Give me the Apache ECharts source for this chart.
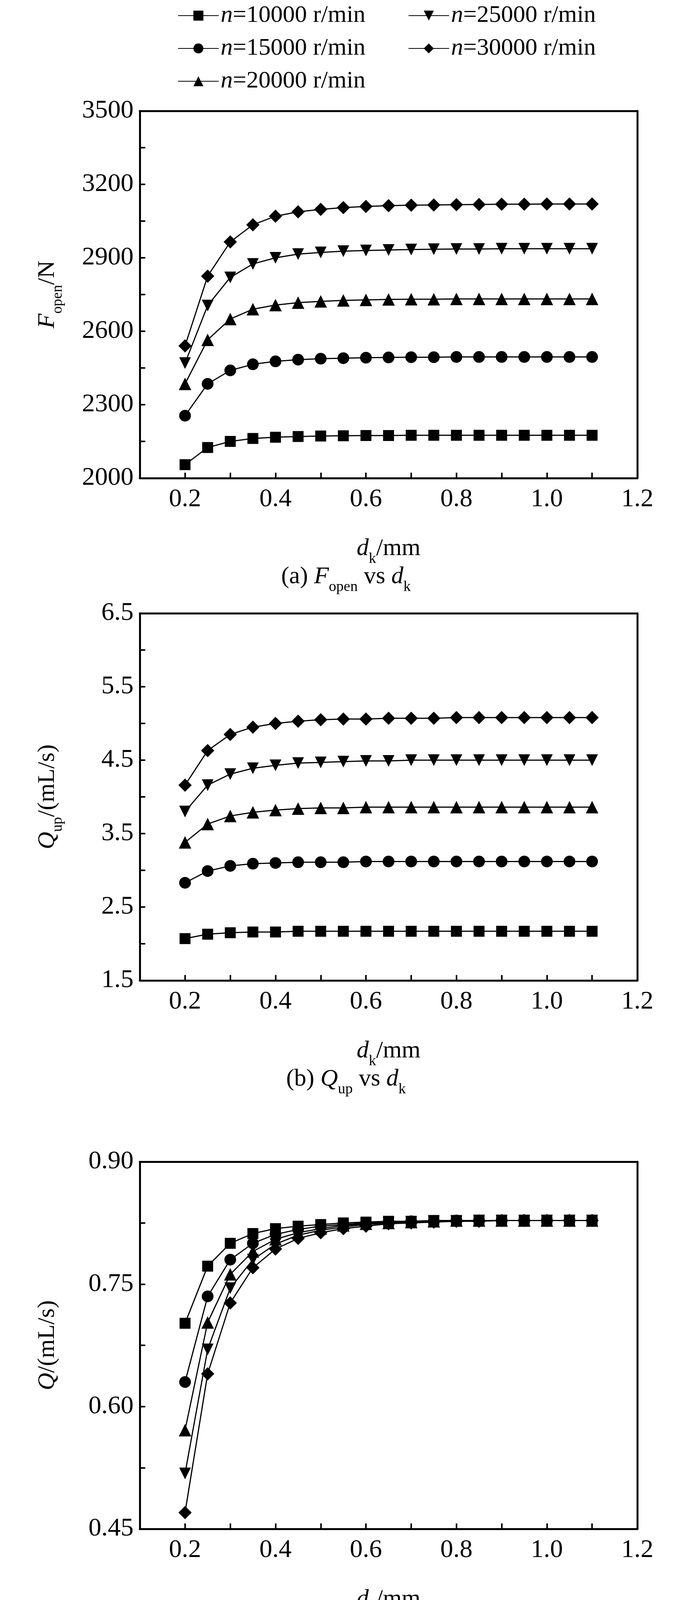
<!DOCTYPE html>
<html>
<head>
<meta charset="utf-8">
<script src="https://cdn.jsdelivr.net/npm/echarts@6/dist/echarts.min.js"></script>
<style>html,body{margin:0;padding:0;background:#fff}#c{width:1772px;height:5434px}</style>
</head>
<body>
<div id="c"></div>
<script>
// d_k (mm)
const dk = [0.2,0.25,0.3,0.35,0.4,0.45,0.5,0.55,0.6,0.65,0.7,0.75,0.8,0.85,0.9,0.95,1.0,1.05,1.1];
const speeds = ['10000','15000','20000','25000','30000'];

// (a) F_open / N
const fOpen10 = [2055,2125,2150,2162,2167,2170,2172,2173,2174,2174,2175,2175,2175,2175,2175,2175,2175,2175,2175];
const fOpen15 = [2255,2385,2440,2465,2477,2484,2488,2490,2492,2493,2494,2494,2495,2495,2495,2495,2495,2495,2495];
const fOpen20 = [2385,2565,2650,2690,2707,2717,2722,2726,2728,2730,2731,2731,2732,2732,2732,2732,2732,2732,2732];
const fOpen25 = [2470,2705,2820,2875,2900,2915,2922,2927,2930,2932,2934,2935,2936,2936,2937,2937,2937,2937,2937];
const fOpen30 = [2540,2825,2965,3035,3070,3088,3098,3105,3110,3113,3115,3116,3117,3118,3119,3119,3120,3120,3120];

// (b) Q_up / (mL/s)
const qUp10 = [2.07,2.13,2.15,2.16,2.16,2.17,2.17,2.17,2.17,2.17,2.17,2.17,2.17,2.17,2.17,2.17,2.17,2.17,2.17];
const qUp15 = [2.83,2.99,3.06,3.09,3.10,3.11,3.11,3.11,3.12,3.12,3.12,3.12,3.12,3.12,3.12,3.12,3.12,3.12,3.12];
const qUp20 = [3.38,3.63,3.74,3.79,3.82,3.84,3.85,3.85,3.86,3.86,3.86,3.86,3.86,3.86,3.86,3.86,3.86,3.86,3.86];
const qUp25 = [3.80,4.16,4.31,4.39,4.43,4.46,4.47,4.48,4.49,4.49,4.50,4.50,4.50,4.50,4.50,4.50,4.50,4.50,4.50];
const qUp30 = [4.16,4.63,4.85,4.95,5.00,5.03,5.05,5.06,5.06,5.07,5.07,5.07,5.08,5.08,5.08,5.08,5.08,5.08,5.08];

// (c) Q / (mL/s)
const q10 = [0.702,0.772,0.800,0.812,0.818,0.821,0.823,0.825,0.826,0.827,0.827,0.828,0.828,0.828,0.828,0.828,0.828,0.828,0.828];
const q15 = [0.630,0.735,0.780,0.800,0.811,0.817,0.821,0.823,0.825,0.826,0.827,0.827,0.828,0.828,0.828,0.828,0.828,0.828,0.828];
const q20 = [0.571,0.703,0.762,0.790,0.805,0.813,0.818,0.822,0.824,0.825,0.826,0.827,0.828,0.828,0.828,0.828,0.828,0.828,0.828];
const q25 = [0.518,0.670,0.745,0.780,0.799,0.810,0.816,0.820,0.823,0.825,0.826,0.827,0.827,0.828,0.828,0.828,0.828,0.828,0.828];
const q30 = [0.470,0.640,0.727,0.770,0.793,0.806,0.813,0.818,0.821,0.824,0.825,0.826,0.827,0.827,0.828,0.828,0.828,0.828,0.828];

// (d) f
const f10 = [0.0072,0.0070,0.0069,0.00685,0.0068,0.0068,0.0068,0.0068,0.0068,0.0068,0.0068,0.0068,0.0068,0.0068,0.0068,0.0068,0.0068,0.0068,0.0068];
const f15 = [0.0098,0.0093,0.0091,0.0090,0.00893,0.0089,0.0089,0.00888,0.00887,0.00886,0.00886,0.00886,0.00885,0.00885,0.00885,0.00885,0.00885,0.00885,0.00885];
const f20 = [0.0125,0.0116,0.0112,0.0110,0.0109,0.01088,0.01086,0.01085,0.01084,0.01083,0.01083,0.01082,0.01082,0.01082,0.01082,0.01082,0.01082,0.01082,0.01082];
const f25 = [0.0150,0.0136,0.0131,0.0129,0.0128,0.0127,0.01268,0.01265,0.01264,0.01263,0.01263,0.01262,0.01262,0.01262,0.01262,0.01262,0.01262,0.01262,0.01262];
const f30 = [0.0175,0.0157,0.0150,0.0147,0.0145,0.0144,0.01435,0.0143,0.0143,0.01428,0.01428,0.01427,0.01427,0.01426,0.01426,0.01426,0.01426,0.01426,0.01426];

const xTickLabels = ['0.2','0.4','0.6','0.8','1.0','1.2'];

const FONT = '"Liberation Serif","DejaVu Serif",serif';
const symbols = ['rect','circle','triangle','path://M0,0 L10,0 L5,10 Z','diamond'];
const symbolSizes = [28,30,32,30,34];

const panels = [
  {data:[fOpen10,fOpen15,fOpen20,fOpen25,fOpen30], min:2000, max:3500, step:300, dec:0, top:284, name:'{i|F}{s|open}/N', cap:'(a) {i|F}{s|open} vs {i|d}{s|k}'},
  {data:[qUp10,qUp15,qUp20,qUp25,qUp30], min:1.5, max:6.5, step:1, dec:1, top:1570, name:'{i|Q}{s|up}/(mL/s)', cap:'(b) {i|Q}{s|up} vs {i|d}{s|k}'},
  {data:[q10,q15,q20,q25,q30], min:0.45, max:0.90, step:0.15, dec:2, top:2974, name:'{i|Q}/(mL/s)', cap:'(c) {i|Q} vs {i|d}{s|k}'},
  {data:[f10,f15,f20,f25,f30], min:0.004, max:0.020, step:0.004, dec:3, top:4316, name:'{i|f}', cap:'(d) {i|f} vs {i|d}{s|k}'}
];
const H = 940, L = 358, W = 1274;

const rich = {
  i:{fontStyle:'italic', fontFamily:FONT, fontSize:62, color:'#000'},
  t:{fontFamily:FONT, fontSize:62, color:'#000'},
  s:{fontFamily:FONT, fontSize:38, color:'#000', verticalAlign:'bottom', padding:[0,0,-14,0]}
};

const grid = [], xAxis = [], yAxis = [], series = [], graphic = [];
panels.forEach((p, k) => {
  grid.push({left:L, top:p.top, width:W, height:H});
  xAxis.push({
    type:'value', gridIndex:k, min:0.1, max:1.2, interval:0.1,
    axisLine:{lineStyle:{color:'#000', width:5}},
    axisTick:{inside:true, length:14, lineStyle:{color:'#000', width:4}},
    splitLine:{show:false},
    axisLabel:{fontFamily:FONT, fontSize:66, color:'#000', margin:22,
      formatter:v => { const s = v.toFixed(1); return xTickLabels.indexOf(s) >= 0 ? s : ''; }},
    name:'{i|d}{s|k}/mm', nameLocation:'middle', nameGap:150,
    nameTextStyle:{fontFamily:FONT, fontSize:62, color:'#000', rich:rich}
  });
  xAxis.push({type:'value', gridIndex:k, position:'top', min:0.1, max:1.2,
    axisLine:{lineStyle:{color:'#000', width:5}}, axisTick:{show:false}, axisLabel:{show:false}, splitLine:{show:false}});
  yAxis.push({
    type:'value', gridIndex:k, min:p.min, max:p.max, interval:p.step,
    axisLine:{show:true, lineStyle:{color:'#000', width:5}},
    axisTick:{inside:true, length:14, lineStyle:{color:'#000', width:4}},
    minorTick:{show:true, splitNumber:2, length:14, lineStyle:{color:'#000', width:4}},
    splitLine:{show:false},
    axisLabel:{fontFamily:FONT, fontSize:66, color:'#000', margin:16, formatter:v => v.toFixed(p.dec)},
    name:p.name, nameLocation:'middle', nameRotate:90, nameGap:k === 3 ? 230 : 205,
    nameTextStyle:{fontFamily:FONT, fontSize:62, color:'#000', rich:rich}
  });
  yAxis.push({type:'value', gridIndex:k, position:'right', min:p.min, max:p.max,
    axisLine:{show:true, lineStyle:{color:'#000', width:5}}, axisTick:{show:false}, axisLabel:{show:false}, splitLine:{show:false}});
  p.data.forEach((arr, j) => {
    series.push({
      name:'n=' + speeds[j], type:'line', xAxisIndex:2*k, yAxisIndex:2*k,
      data:dk.map((x, i) => [x, arr[i]]),
      symbol:symbols[j], symbolSize:symbolSizes[j], showSymbol:true,
      lineStyle:{color:'#000', width:3}, itemStyle:{color:'#000'},
      silent:true, animation:false
    });
  });
  graphic.push({type:'text', left:'center', top:p.top + H + 222,
    style:{text:p.cap, fontFamily:FONT, fontSize:62, fill:'#000', rich:rich}});
});

const legFmt = n => '{i|n}{t|' + n.slice(1) + ' r/min}';
const legendBase = {orient:'vertical', itemWidth:104, itemHeight:32, itemGap:22,
  textStyle:{fontFamily:FONT, fontSize:62, color:'#000', rich:rich}, formatter:legFmt, selectedMode:false};

const chart = echarts.init(document.getElementById('c'), null, {renderer:'canvas'});
chart.setOption({
  backgroundColor:'#fff',
  animation:false,
  grid:grid, xAxis:xAxis, yAxis:yAxis, series:series, graphic:graphic,
  legend:[
    Object.assign({left:450, top:4, data:['n=10000','n=15000','n=20000']}, legendBase),
    Object.assign({left:1040, top:4, data:['n=25000','n=30000']}, legendBase)
  ]
});
</script>
</body>
</html>
